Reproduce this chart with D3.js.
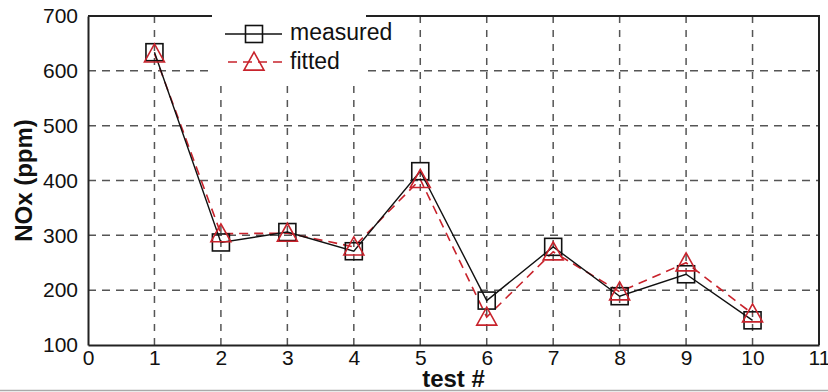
<!DOCTYPE html>
<html>
<head>
<meta charset="utf-8">
<script src="https://cdn.jsdelivr.net/npm/d3@7"></script>
<style>
  body { margin: 0; background: #fff; }
  svg { display: block; font-family: "Liberation Sans", Arial, sans-serif; }
</style>
</head>
<body>
<svg id="chart" width="828" height="392"></svg>
<script>
// data
var tests = [1, 2, 3, 4, 5, 6, 7, 8, 9, 10];
var measured = [634, 287, 306, 271, 417, 181, 279, 189, 229, 145];
var fitted = [631, 303, 304, 279, 402, 151, 270, 197, 250, 157];
var xTicks = [0, 1, 2, 3, 4, 5, 6, 7, 8, 9, 10, 11];
var yTicks = [100, 200, 300, 400, 500, 600, 700];

var margin = {left: 88, right: 9, top: 16, bottom: 47};
var W = 828, H = 392;

var svg = d3.select("#chart");

var x = d3.scaleLinear().domain([0, 11]).range([margin.left, W - margin.right]);
var y = d3.scaleLinear().domain([100, 700]).range([H - margin.bottom, margin.top]);

// gray line at the very bottom of the picture
svg.append("line").attr("x1", 0).attr("x2", W).attr("y1", 390.5).attr("y2", 390.5)
    .attr("stroke", "#aaa").attr("stroke-width", 1.5);

// grid
var grid = svg.append("g");
grid.selectAll(".vg").data(xTicks.slice(1, -1)).join("line")
    .attr("x1", d => x(d)).attr("x2", d => x(d))
    .attr("y1", y(700)).attr("y2", y(100))
    .attr("stroke", "#555").attr("stroke-width", 1.5)
    .attr("stroke-dasharray", "7,7");
grid.selectAll(".hg").data(yTicks.slice(1, -1)).join("line")
    .attr("x1", x(0)).attr("x2", x(11))
    .attr("y1", d => y(d)).attr("y2", d => y(d))
    .attr("stroke", "#555").attr("stroke-width", 1.5)
    .attr("stroke-dasharray", "8,6");

// axes
var xAxis = svg.append("g").attr("transform", "translate(0," + y(100) + ")")
    .call(d3.axisBottom(x).tickValues(xTicks).tickSize(0).tickPadding(5));
var yAxis = svg.append("g").attr("transform", "translate(" + x(0) + ",0)")
    .call(d3.axisLeft(y).tickValues(yTicks).tickSize(0).tickPadding(10));
[xAxis, yAxis].forEach(function (a) {
    a.select(".domain").attr("stroke", "#222").attr("stroke-width", 2);
    a.selectAll("text").attr("font-size", 21).attr("fill", "#111")
        .attr("font-family", "Liberation Sans, Arial, sans-serif");
});

// top and right border
svg.append("path")
    .attr("d", "M" + x(0) + "," + y(700) + "H" + x(11) + "V" + y(100))
    .attr("fill", "none").attr("stroke", "#222").attr("stroke-width", 2);

// lines
var line = d3.line().x((d, i) => x(tests[i])).y(d => y(d));
svg.append("path").datum(fitted).attr("d", line)
    .attr("fill", "none").attr("stroke", "#c8232c").attr("stroke-width", 1.6)
    .attr("stroke-dasharray", "9,6");
svg.append("path").datum(measured).attr("d", line)
    .attr("fill", "none").attr("stroke", "#111").attr("stroke-width", 1.4);

var sq = 17;
function square(g, cx, cy) {
    g.append("rect").attr("x", cx - sq / 2).attr("y", cy - sq / 2)
        .attr("width", sq).attr("height", sq)
        .attr("fill", "none").attr("stroke", "#111").attr("stroke-width", 1.6);
}
function triangle(g, cx, cy) {
    var w = 20, h = 18;
    g.append("path")
        .attr("d", "M" + cx + "," + (cy - h * 0.55) + "L" + (cx + w / 2) + "," + (cy + h * 0.45) +
            "L" + (cx - w / 2) + "," + (cy + h * 0.45) + "Z")
        .attr("fill", "none").attr("stroke", "#c8232c").attr("stroke-width", 1.6);
}

var marks = svg.append("g");
measured.forEach((v, i) => square(marks, x(tests[i]), y(v)));
fitted.forEach((v, i) => triangle(marks, x(tests[i]), y(v)));

// legend
var lg = svg.append("g");
lg.append("rect").attr("x", 212).attr("y", 8).attr("width", 154).attr("height", 71).attr("fill", "#fff");
lg.append("line").attr("x1", 225).attr("x2", 282).attr("y1", 34).attr("y2", 34)
    .attr("stroke", "#111").attr("stroke-width", 1.4);
square(lg, 254, 34);
lg.append("line").attr("x1", 225).attr("x2", 282).attr("y1", 62).attr("y2", 62)
    .attr("stroke", "#c8232c").attr("stroke-width", 1.6).attr("stroke-dasharray", "9,6").attr("stroke-dashoffset", -3);
triangle(lg, 254, 62);
lg.append("text").attr("x", 290).attr("y", 32).attr("dy", "0.35em")
    .attr("font-size", 23).attr("fill", "#111").text("measured");
lg.append("text").attr("x", 290).attr("y", 61).attr("dy", "0.35em")
    .attr("font-size", 23).attr("fill", "#111").text("fitted");

// axis titles
svg.append("text").attr("x", x(5.5)).attr("y", 387).attr("text-anchor", "middle")
    .attr("font-size", 24).attr("font-weight", "bold").attr("fill", "#111").text("test #");
svg.append("text").attr("transform", "translate(32," + y(400) + ") rotate(-90)")
    .attr("text-anchor", "middle")
    .attr("font-size", 24).attr("font-weight", "bold").attr("fill", "#111").text("NOx (ppm)");
</script>
</body>
</html>
